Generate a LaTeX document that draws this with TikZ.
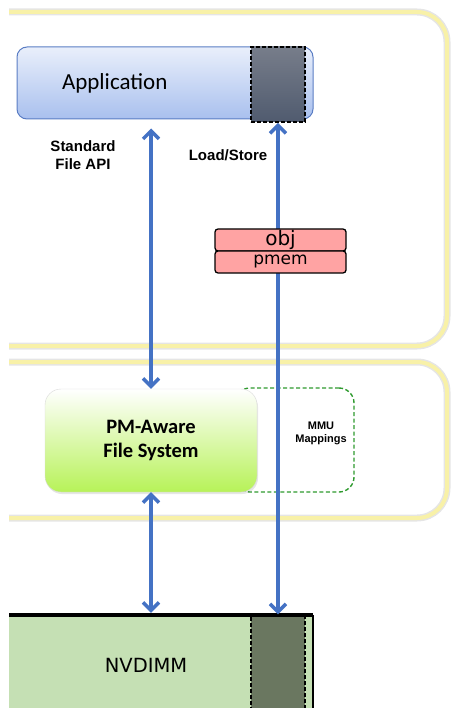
\documentclass[tikz,border=0pt]{standalone}
\usepackage{fontspec}
\newfontfamily\calibri{Carlito}
\newfontfamily\verdana{DejaVu Sans}
\newfontfamily\arial{Liberation Sans}
\usepackage{tikz}
\usetikzlibrary{positioning, arrows.meta, shadows}

\definecolor{arrowblue}{HTML}{4472C4}
\definecolor{shellyellow}{HTML}{F8F1A8}
\definecolor{appline}{HTML}{5A7DC4}
\definecolor{apptop}{HTML}{E9EFFB}
\definecolor{appbot}{HTML}{A9C0EE}
\definecolor{memtop}{HTML}{777D8A}
\definecolor{membot}{HTML}{505B6F}
\definecolor{fsbot}{HTML}{B7F258}
\definecolor{mmugreen}{HTML}{2E9A2E}
\definecolor{tagpink}{HTML}{FFA3A3}
\definecolor{nvgreen}{HTML}{C5E0B4}
\definecolor{nvdark}{HTML}{6A7760}

\begin{document}
\begin{tikzpicture}[
            x=1pt, y=-1pt,
            shell/.style={draw=shellyellow, line width=4pt, rounded corners=30pt,
                preaction={draw=black!10, line width=7pt}},
            appbox/.style={draw=appline, line width=1pt, rounded corners=10pt, top color=apptop, bottom color=appbot,
                minimum width=296pt, minimum height=72pt, text width=206pt, inner xsep=45pt,
                align=left, font=\calibri\fontsize{23}{27}\selectfont},
            membox/.style={draw=black, dash pattern=on 4pt off 2pt, line width=1.8pt, top color=memtop, bottom color=membot,
                minimum width=54pt, minimum height=75pt},
            fsbox/.style={draw=white!85!black, rounded corners=16pt, top color=white, bottom color=fsbot,
                minimum width=212pt, minimum height=103pt, align=center,
                drop shadow={opacity=0.2, shadow xshift=1pt, shadow yshift=-2pt},
                font=\calibri\bfseries\fontsize{20.5}{24}\selectfont},
            mmubox/.style={draw=mmugreen, dash pattern=on 4pt off 2.5pt, line width=1.4pt,
                rounded corners=15pt, minimum width=119pt, minimum height=104pt},
            tag/.style={draw=black, line width=1.3pt, fill=tagpink, rounded corners=3pt,
                minimum width=131pt, minimum height=22pt, inner sep=0pt, outer sep=0pt,
                font=\verdana\fontsize{17}{18}\selectfont},
            label/.style={align=center, font=\arial\bfseries\fontsize{15}{18}\selectfont},
            link/.style={draw=arrowblue, line width=3.5pt, {Straight Barb[length=8pt,width=16pt]}-{Straight Barb[length=8pt,width=16pt]}}
        ]
            \useasboundingbox (0,0) rectangle (452,708);
            \clip (9,0) rectangle (452,708);

            \draw[shell] (-30,12) rectangle (447,346);
            \draw[shell] (-30,362) rectangle (447,518);

            \node[mmubox] (mmu) at (294.5,440) {};
            \node[font=\arial\bfseries\fontsize{11}{13}\selectfont, align=center] (mmutxt) at (321,433) {MMU\\Mappings};
            \node[fsbox] (fs) at (151,440.5) {PM-Aware\\File System};

            \node[appbox] (app) at (165,83) {Application};
            \node[membox] (appmem) at (278,84.5) {};

            \node[label] (api) at (83,155) {Standard\\File API};
            \node[label] (ls) at (228,155) {Load/Store};

            \node[fill=nvgreen, minimum width=334pt, minimum height=100pt,
                font=\verdana\fontsize{19.5}{22}\selectfont] (nv) at (146,665) {NVDIMM};
            \node[fill=nvdark, draw=black, dash pattern=on 4pt off 2pt, line width=1.2pt,
                minimum width=54pt, minimum height=100pt] (nvmem) at (278,665) {};
            \draw[line width=3.5pt] (nv.north west) -- (nv.north east);
            \draw[line width=2.5pt] (nv.north east) -- (nv.south east);

            \draw[link, shorten >=9pt] (fs.north) -- (fs.north |- app.south);
            \draw[link] (appmem.south) -- (nvmem.north);
            \draw[link, shorten >=2pt] (fs.south) -- (fs.south |- nv.north);

            \node[tag, font=\verdana\fontsize{20}{20}\selectfont] (obj) at (280.5,240) {obj};
            \node[tag, below=0pt of obj] (pmem) {pmem};
        \end{tikzpicture}
\end{document}
